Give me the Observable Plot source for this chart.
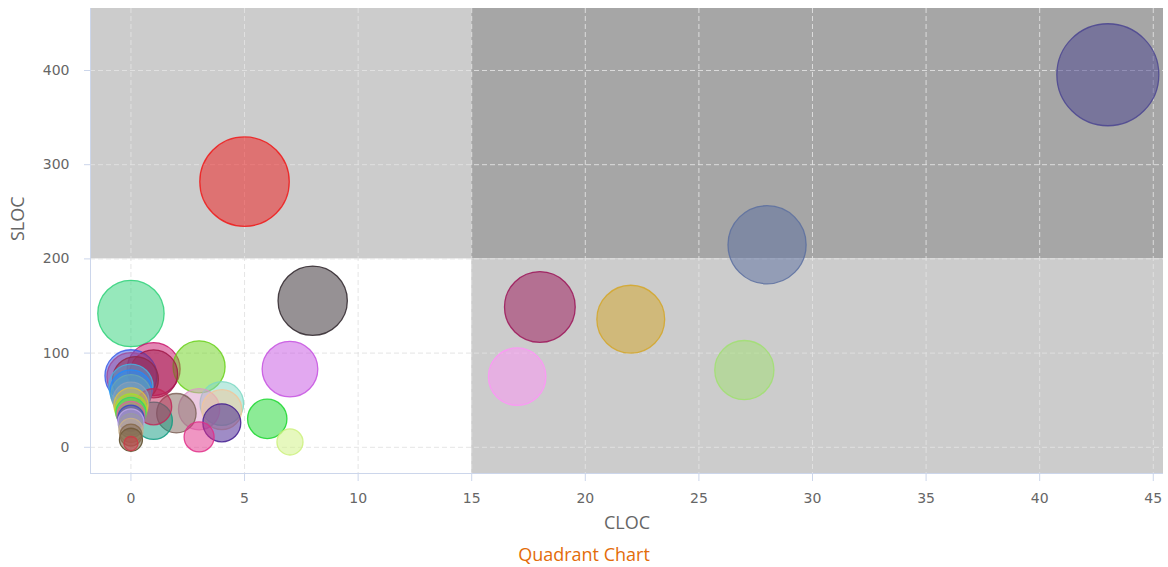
<!DOCTYPE html>
<html><head><meta charset="utf-8">
<script src="https://cdn.jsdelivr.net/npm/d3@7"></script>
<script src="https://cdn.jsdelivr.net/npm/@observablehq/plot@0.6"></script>
<style>
body{margin:0;background:#fff;}
#wrap{position:relative;width:1168px;height:567px;overflow:hidden;}
#cap{position:absolute;top:545px;left:0;width:1168px;text-align:center;font-family:"Open Sans";font-size:18px;line-height:18px;color:#e36c0a;}
</style></head><body>
<div id="wrap"><div id="chart"></div><div id="cap">Quadrant Chart</div></div>
<script>
// Data
const cloc  = [43, 5, 28, 18, 22, 27, 17, 8, 0, 7, 3, 6, 7, 3, 4, 4, 4, 3, 2, 1, 1, 1, 1,
               0, 0, 0.2, 0, 0, 0, 0, 0, 0, 0, 0, 0, 0, 0, 0, 0, 0, 0];
const sloc  = [395.5, 282, 215, 149, 136, 82, 75, 155.6, 142, 83, 85.4, 30.2, 5.7, 11, 26, 46.5, 40, 40.4, 36.2, 28.2, 83, 78, 43,
               76, 75, 72, 65, 60, 56, 50, 45, 40, 37, 34, 31, 27, 23, 18, 13, 8, 4];
const size  = [104, 80, 61, 50, 46, 35, 33, 48, 44, 31, 27, 15.5, 6.8, 9, 14.4, 19, 16, 17, 15.5, 14, 28, 23, 13,
               27, 23, 21, 19.4, 17.6, 16, 13, 11.6, 10, 9, 7.8, 6.8, 6.8, 5.8, 5.8, 4.8, 5.3, 2];
const colors = ["#4a4490", "#f01818", "#5a6ea0", "#9c1458", "#d4a628", "#a0e070", "#ff94f8", "#2d2329", "#2dd178",
                "#c551e1", "#69d119", "#19d72d", "#cdf17d", "#e12d87", "#3f1a8e", "#7dd8c3", "#f2c69a", "#dc98c8",
                "#7d6258", "#0e9a80", "#c8106a", "#a01848", "#c02858",
                "#3a5ae8", "#a04a98", "#902848", "#48b0e0", "#1e8cff", "#6aa6b0", "#8aa0b8", "#e0c040", "#a8e020",
                "#30d868", "#e0609a", "#3844c8", "#c0a8e8", "#9a9aa0", "#c8b08a", "#86684a", "#5a4a28", "#d03848"];

const xDomain = [-1.78, 45.45];
const yDomain = [-27.8, 465.8];
const xSplit = 15;
const ySplit = 200;
const xTicks = [0, 5, 10, 15, 20, 25, 30, 35, 40, 45];
const yTicks = [0, 100, 200, 300, 400];
const quadFill = ["#cccccc", "#a6a6a6", "#cccccc"];

const quadrants = [
  {x1: xDomain[0], x2: xSplit, y1: ySplit, y2: yDomain[1], fill: quadFill[0]},
  {x1: xSplit, x2: xDomain[1], y1: ySplit, y2: yDomain[1], fill: quadFill[1]},
  {x1: xSplit, x2: xDomain[1], y1: yDomain[0], y2: ySplit, fill: quadFill[2]}
];
const points = cloc.map((c, i) => ({cloc: c, sloc: sloc[i], size: size[i], color: colors[i]}));

const axisColor = "#ccd6eb";
const chart = Plot.plot({
  width: 1168, height: 540,
  marginLeft: 90, marginRight: 5, marginTop: 8, marginBottom: 67,
  x: {domain: xDomain},
  y: {domain: yDomain},
  r: {type: "sqrt", domain: [0, 104], range: [0, 51]},
  color: {type: "identity"},
  style: {fontFamily: "DejaVu Sans", fontSize: "14px", color: "#666", background: "#fff"},
  marks: [
    Plot.rect(quadrants, {x1: "x1", x2: "x2", y1: "y1", y2: "y2", fill: "fill"}),
    Plot.gridX(xTicks, {stroke: "#e2e2e2", strokeOpacity: 0.9, strokeDasharray: "5,3"}),
    Plot.gridY(yTicks, {stroke: "#e2e2e2", strokeOpacity: 0.9, strokeDasharray: "5,3"}),
    Plot.dot(points, {x: "cloc", y: "sloc", r: "size", fill: "color", fillOpacity: 0.5, stroke: "color", strokeOpacity: 0.85, strokeWidth: 1.3}),
    Plot.ruleX([xDomain[0]], {stroke: axisColor}),
    Plot.ruleY([yDomain[0]], {stroke: axisColor}),
    Plot.axisX(xTicks, {stroke: axisColor, tickSize: 8, tickPadding: 12, label: null}),
    Plot.axisY(yTicks, {stroke: axisColor, tickSize: 6, tickPadding: 15, label: null}),
    Plot.text(["CLOC"], {text: d => d, frameAnchor: "bottom", dy: 55, fontFamily: "Open Sans", fontSize: 18, fill: "#666"}),
    Plot.text(["SLOC"], {text: d => d, frameAnchor: "left", dx: -72, rotate: -90, fontFamily: "Open Sans", fontSize: 18, fill: "#666"})
  ]
});
document.getElementById("chart").appendChild(chart);
</script>
</body></html>
